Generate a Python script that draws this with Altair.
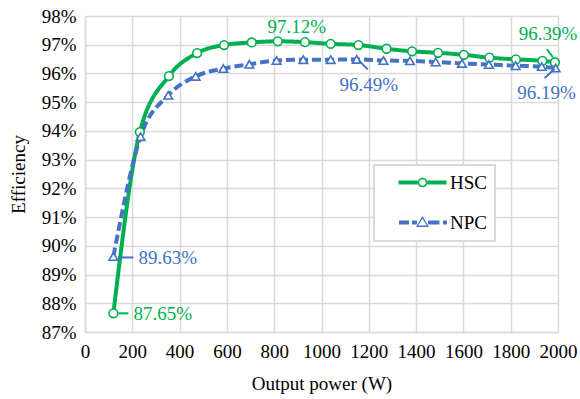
import altair as alt
import pandas as pd

# ---- data ----
series_names = ["HSC", "NPC"]
hsc_power = [120, 232, 355, 474, 588, 705, 815, 930, 1039, 1156, 1275, 1383, 1493, 1602, 1710, 1822, 1934, 1987]
hsc_eff = [87.65, 93.96, 95.91, 96.71, 96.99, 97.08, 97.12, 97.09, 97.03, 96.99, 96.86, 96.77, 96.72, 96.65, 96.55, 96.49, 96.44, 96.39]
npc_power = [120, 235, 352, 468, 585, 695, 810, 923, 1039, 1149, 1262, 1374, 1483, 1594, 1708, 1821, 1931, 1990]
npc_eff = [89.63, 93.80, 95.24, 95.90, 96.17, 96.32, 96.45, 96.48, 96.48, 96.49, 96.45, 96.44, 96.40, 96.35, 96.31, 96.27, 96.24, 96.19]
x_ticks = [0, 200, 400, 600, 800, 1000, 1200, 1400, 1600, 1800, 2000]
y_ticks = [87, 88, 89, 90, 91, 92, 93, 94, 95, 96, 97, 98]

GREEN = "#00B050"
BLUE = "#4472C4"
GRID = "#d9d9d9"
FONT = "Liberation Serif"

rows = []
for s, P, E in (("HSC", hsc_power, hsc_eff), ("NPC", npc_power, npc_eff)):
    for i, (p, e) in enumerate(zip(P, E)):
        rows.append({"series": s, "idx": i, "power": p, "eff": e, "label": f"{e:.2f}%"})
df = pd.DataFrame(rows)

base = alt.Chart(df)

X = alt.X("power:Q", scale=alt.Scale(domain=[0, 2000], nice=False),
          axis=alt.Axis(values=x_ticks, format="d", labelOverlap=False, labelFlush=False,
                        title="Output power (W)", titleY=51,
                        titleBaseline="middle", labelPadding=10))
Y = alt.Y("eff:Q", scale=alt.Scale(domain=[87, 98], nice=False, zero=False),
          axis=alt.Axis(values=y_ticks, labelExpr="datum.value + '%'", labelOverlap=False,
                        labelFlush=False, title="Efficiency",
                        titleX=-67, titleY=158, titleBaseline="middle", titleAngle=-90,
                        labelPadding=9))

color_scale = alt.Scale(domain=series_names, range=[GREEN, BLUE])

lines = base.mark_line(interpolate="monotone", strokeWidth=4).encode(
    x=X, y=Y,
    color=alt.Color("series:N", scale=color_scale, legend=None),
    strokeDash=alt.StrokeDash("series:N", scale=alt.Scale(domain=series_names, range=[[1, 0], [9, 4]]), legend=None),
    detail="series:N",
)

points = base.mark_point(filled=False, fill="white", size=75, strokeWidth=1.6, opacity=1).encode(
    x=X, y=Y,
    color=alt.Color("series:N", scale=color_scale, legend=None),
    shape=alt.Shape("series:N", scale=alt.Scale(domain=series_names, range=["circle", "triangle-up"]), legend=None),
)

# legend symbols: line + hollow marker, drawn as filled paths (unit = 6 px)
hsc_sym = ("M-4,-0.33H-0.8V0.33H-4Z M0.8,-0.33H4V0.33H0.8Z "
           "M0.8,0A0.8,0.8 0 1,0 -0.8,0A0.8,0.8 0 1,0 0.8,0Z "
           "M0.55,0A0.55,0.55 0 1,1 -0.55,0A0.55,0.55 0 1,1 0.55,0Z")
npc_sym = ("M-3.92,-0.33H-2.25V0.33H-3.92Z "
           "M-1.75,-0.33H-0.92V0.33H-1.75Z "
           "M0.92,-0.33H2.83V0.33H0.92Z "
           "M3.42,-0.33H4.08V0.33H3.42Z "
           "M0,-1.08L1.08,0.75L-1.08,0.75Z "
           "M0,-0.63L-0.72,0.5L0.72,0.5Z")

leg = alt.Legend(title=None, orient="none", legendX=289, legendY=149,
                 fillColor="white", strokeColor=GRID,
                 padding=8, rowPadding=20, symbolSize=144, symbolStrokeWidth=0,
                 symbolOffset=31,
                 labelFont=FONT, labelFontSize=19, labelColor="black", labelOffset=18,
                 labelExpr="datum.label + '   '",
                 symbolOpacity=1)

legend_layer = base.transform_filter("false").mark_point(filled=True, strokeWidth=0).encode(
    x=X, y=Y,
    color=alt.Color("series:N", scale=color_scale, legend=leg),
    shape=alt.Shape("series:N", scale=alt.Scale(domain=series_names, range=[hsc_sym, npc_sym]), legend=leg),
)

def pt(series, idx):
    return base.transform_filter((alt.datum.series == series) & (alt.datum.idx == idx))

def label(series, idx, col, dx, dy, align="center"):
    return pt(series, idx).mark_text(font=FONT, fontSize=19, color=col, dx=dx, dy=dy,
                                     align=align, baseline="middle").encode(x=X, y=Y, text="label:N")

def leader(series, idx, col, x1, y1, x2, y2):
    return pt(series, idx).mark_rule(color=col, strokeWidth=2, xOffset=x1, yOffset=y1,
                                     x2Offset=x2, y2Offset=y2).encode(x=X, y=Y, x2="power:Q", y2="eff:Q")

n_last = len(hsc_power) - 1
annotations = [
    label("HSC", 6, GREEN, 19, -14),
    label("HSC", n_last, GREEN, -7, -28),
    leader("HSC", n_last, GREEN, -8, -13, -2, -5),
    label("NPC", 9, BLUE, 12, 26),
    leader("NPC", 9, BLUE, 2, 1, 11, 10),
    label("NPC", n_last, BLUE, -9, 25),
    leader("NPC", n_last, BLUE, -11, 10, -1, 1),
    label("NPC", 0, BLUE, 25, 2, "left"),
    leader("NPC", 0, BLUE, 5, 1, 20, 1),
    label("HSC", 0, GREEN, 20, 1, "left"),
    leader("HSC", 0, GREEN, 5, 0, 15, 0),
]

chart = alt.layer(lines, points, *annotations, legend_layer).resolve_scale(
    color="independent", shape="independent", strokeDash="independent"
).properties(
    width=473, height=316,
    autosize=alt.AutoSizeParams(type="none"),
    padding={"left": 85, "top": 16, "right": 22, "bottom": 67},
    background="white",
).configure_view(stroke=None).configure_axis(
    grid=True, gridColor=GRID, gridWidth=1.5, domainColor=GRID, domainWidth=1.5,
    ticks=False, labelFont=FONT, labelFontSize=19, labelColor="black",
    titleFont=FONT, titleFontSize=19, titleColor="black", titleFontWeight="normal",
).configure_legend(strokeWidth=2)

chart.save("out.html", embed_options={"renderer": "svg", "actions": False})
